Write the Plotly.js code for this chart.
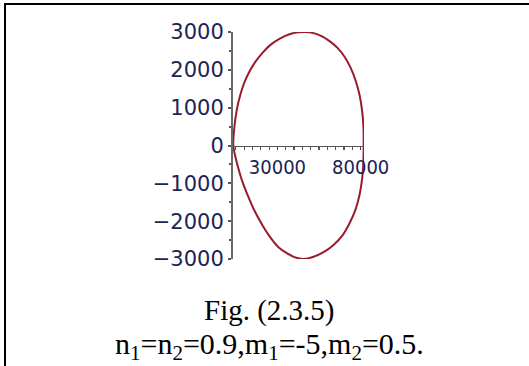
<!DOCTYPE html>
<html>
<head>
<meta charset="utf-8">
<script src="https://cdn.plot.ly/plotly-3.0.1.min.js"></script>
<style>
  html, body { margin: 0; padding: 0; background: #fff; }
  #wrap { position: relative; width: 529px; height: 366px; overflow: hidden; }
  #chart { position: absolute; left: 0; top: 0; width: 529px; height: 366px; }
  /* table cell frame around the figure */
  #frame {
    position: absolute; left: 4px; top: 3px; width: 530px; height: 370px;
    border-left: 2px solid #000; border-top: 2px solid #000;
    pointer-events: none;
  }
</style>
</head>
<body>
<div id="wrap">
  <div id="chart"></div>
  <div id="frame"></div>
</div>
<script>
// Closed orbit in the phase plane: upper branch (left to right)
const xUpper = [3500, 4100, 5600, 7700, 10100, 13100, 16700, 21000, 25800, 31200, 37200, 42600,
                46900, 51700, 56500, 61300, 66100, 70400, 74000, 77000, 79400, 80900, 81700, 81800];
const yUpper = [0, 470, 950, 1340, 1660, 1950, 2210, 2450, 2660, 2820, 2940, 2990,
                3000, 2970, 2890, 2760, 2580, 2340, 2050, 1710, 1320, 900, 450, 0];

// lower branch (right back to left)
const xLower = [81600, 80900, 79400, 77000, 73400, 69200, 63700, 57700, 51700, 45700, 40200,
                35400, 30600, 26400, 22800, 19200, 15500, 11900, 8900, 6500, 4700, 3500];
const yLower = [-450, -870, -1290, -1680, -2050, -2370, -2630, -2820, -2940, -3000, -2950,
                -2840, -2690, -2470, -2240, -1970, -1660, -1290, -950, -600, -290, 0];

// axis ticks
const xTickVals = [30000, 80000];
const xTickText = ['30000', '80000'];
const yTickVals = [-3000, -2000, -1000, 0, 1000, 2000, 3000];
const yTickText = ['\u22123000', '\u22122000', '\u22121000', '0', '1000', '2000', '3000'];

// caption lines
const captionTitle = 'Fig. (2.3.5)';
const captionParams = 'n<sub>1</sub>=n<sub>2</sub>=0.9,m<sub>1</sub>=-5,m<sub>2</sub>=0.5.';

const orbit = {
  x: xUpper.concat(xLower),
  y: yUpper.concat(yLower),
  type: 'scatter',
  mode: 'lines',
  line: { color: '#9a1b2c', width: 2, shape: 'spline', smoothing: 1 },
  hoverinfo: 'skip'
};

const tickColor = '#1c2456';

const layout = {
  width: 529,
  height: 366,
  margin: { l: 233, r: 165, t: 32, b: 107 },
  paper_bgcolor: '#ffffff',
  plot_bgcolor: '#ffffff',
  showlegend: false,
  xaxis: {
    range: [3300, 82000],
    anchor: 'free',
    position: 0.5,
    showgrid: false,
    zeroline: false,
    showline: true,
    linecolor: '#555555',
    linewidth: 1.5,
    tickmode: 'array',
    tickvals: xTickVals,
    ticktext: xTickText,
    ticks: 'outside',
    ticklen: 3,
    tickwidth: 1.5,
    tickcolor: '#444444',
    ticklabelstandoff: 0,
    minor: { tickmode: 'linear', tick0: 0, dtick: 5000, ticks: 'outside', ticklen: 3, tickwidth: 1.2, tickcolor: '#555555' },
    tickfont: { family: 'DejaVu Sans Condensed', size: 20, color: tickColor },
    fixedrange: true
  },
  yaxis: {
    range: [-3000, 3000],
    showgrid: false,
    zeroline: false,
    showline: true,
    linecolor: '#6a6a6a',
    linewidth: 2,
    tickmode: 'array',
    tickvals: yTickVals,
    ticktext: yTickText,
    ticks: 'outside',
    ticklen: 3,
    tickwidth: 2,
    tickcolor: '#555555',
    minor: { tickmode: 'linear', tick0: 0, dtick: 500, ticks: 'outside', ticklen: 2, tickwidth: 2, tickcolor: '#555555' },
    tickfont: { family: 'DejaVu Sans', size: 21, color: tickColor },
    fixedrange: true
  },
  annotations: [
    {
      text: captionTitle,
      xref: 'paper', yref: 'paper',
      x: 0.2824, y: -0.225,
      xanchor: 'center', yanchor: 'middle',
      showarrow: false,
      font: { family: 'Liberation Serif', size: 29, color: '#000000' }
    },
    {
      text: captionParams,
      xref: 'paper', yref: 'paper',
      x: 0.2824, y: -0.382,
      xanchor: 'center', yanchor: 'middle',
      showarrow: false,
      font: { family: 'Liberation Serif', size: 30, color: '#000000' }
    }
  ]
};

Plotly.newPlot('chart', [orbit], layout, { displayModeBar: false, staticPlot: true });
</script>
</body>
</html>
